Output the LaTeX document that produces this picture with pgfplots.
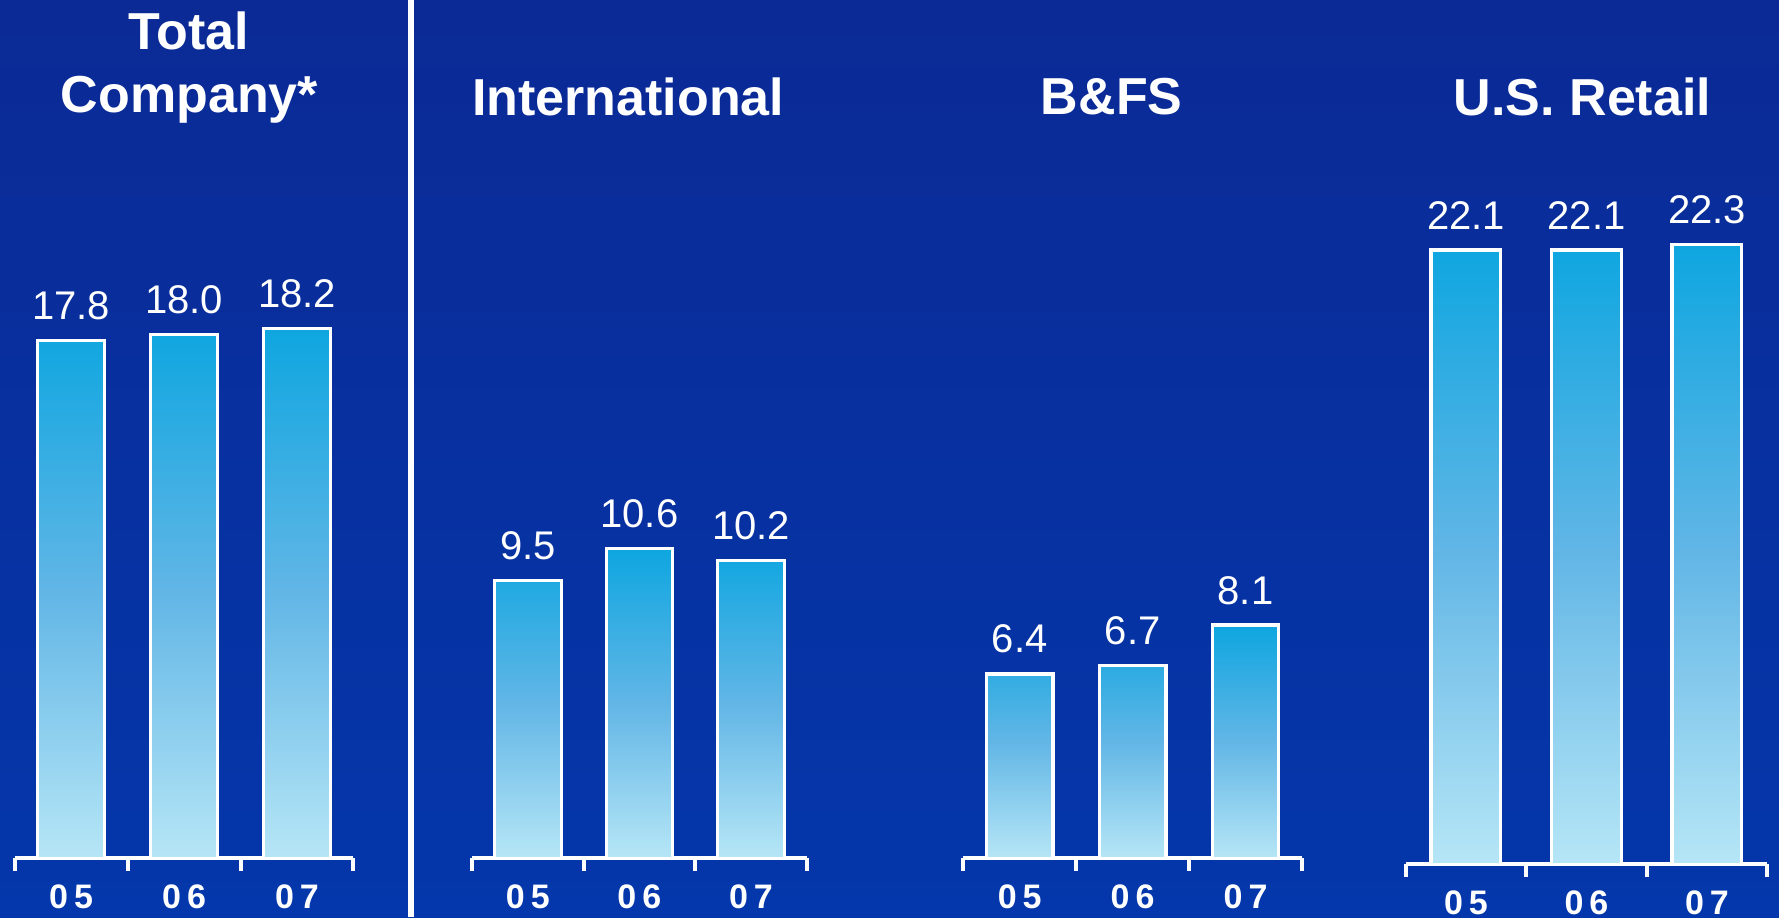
\documentclass[border=0pt]{standalone}
\usepackage{pgfplots}
\pgfplotsset{compat=1.18}
\usepackage{fontspec}
\setmainfont{Liberation Sans}
\definecolor{bgTop}{HTML}{0B2A95}
\definecolor{bgBot}{HTML}{0437AB}
\definecolor{barTop}{HTML}{0EA6E0}
\definecolor{barMid}{HTML}{62B6E6}
\definecolor{barBot}{HTML}{B6E6F6}
\pgfplotsset{
  panel/.style={
    scale only axis, clip=false,
    xmin=-0.5, xmax=2.5, ymin=0,
    axis x line*=bottom, axis y line=none,
    x axis line style={white, line width=2pt},
    xtick={0,1,2},
    xticklabels={0\kern3pt 5,0\kern3pt 6,0\kern3pt 7},
    minor xtick={-0.5,0.5,1.5,2.5},
    major tick length=0pt, minor tick length=6.2pt, tick align=outside,
    minor tick style={white, line width=2pt},
    major tick style={draw=none},
    xticklabel style={font=\fontsize{17}{17}\selectfont\bfseries, text=white, anchor=base, inner sep=0pt, yshift=-25pt},
    ytick=\empty,
    anchor=south west,
  },
  bars/.style={
    ybar, draw=white, line width=1.6pt,
    top color=barTop, bottom color=barBot, middle color=barMid,
    point meta=explicit symbolic,
    nodes near coords,
    nodes near coords style={font=\fontsize{20}{20}\selectfont, text=white, anchor=south, inner sep=0pt, yshift=9.5pt},
  },
}
\begin{document}
\begin{tikzpicture}
\path[use as bounding box] (0pt,0pt) rectangle (889.5pt,458.5pt);
\shade[top color=bgTop, bottom color=bgBot] (0pt,0pt) rectangle (889.5pt,458.5pt);
\draw[white, line width=3pt] (205.25pt,0pt) -- (205.25pt,458.5pt);

% Total Company
\begin{axis}[panel, at={(7.35pt,29.35pt)}, x=56.45pt, y=14.55pt, ymax=20]
\addplot[bars, bar width=33.3pt] coordinates {(0,17.8) [17.8] (1,18.0) [18.0] (2,18.2) [18.2]};
\end{axis}

% International
\begin{axis}[panel, at={(236pt,29.35pt)}, x=55.8pt, y=14.6pt, ymax=12]
\addplot[bars, bar width=33.3pt] coordinates {(0,9.5) [9.5] (1,10.6) [10.6] (2,10.2) [10.2]};
\end{axis}

% B&FS
\begin{axis}[panel, at={(481.65pt,29.35pt)}, x=56.45pt, y=14.4pt, ymax=10]
\addplot[bars, bar width=33.3pt] coordinates {(0,6.4) [6.4] (1,6.7) [6.7] (2,8.1) [8.1]};
\end{axis}

% U.S. Retail
\begin{axis}[panel, at={(702.85pt,26.35pt)}, x=60.25pt, y=13.9pt, ymax=24]
\addplot[bars, bar width=34.9pt] coordinates {(0,22.1) [22.1] (1,22.1) [22.1] (2,22.3) [22.3]};
\end{axis}

\begin{scope}[every node/.style={text=white, font=\fontsize{26}{26}\selectfont\bfseries, anchor=base, inner sep=0pt}]
\node at (94.5pt,433.5pt) {Total};
\node at (94.75pt,402pt) {Company*};
\node at (314.15pt,400.65pt) {International};
\node at (555.85pt,401pt) {B\&FS};
\node at (791.25pt,400.5pt) {U.S. Retail};
\end{scope}
\end{tikzpicture}
\end{document}
